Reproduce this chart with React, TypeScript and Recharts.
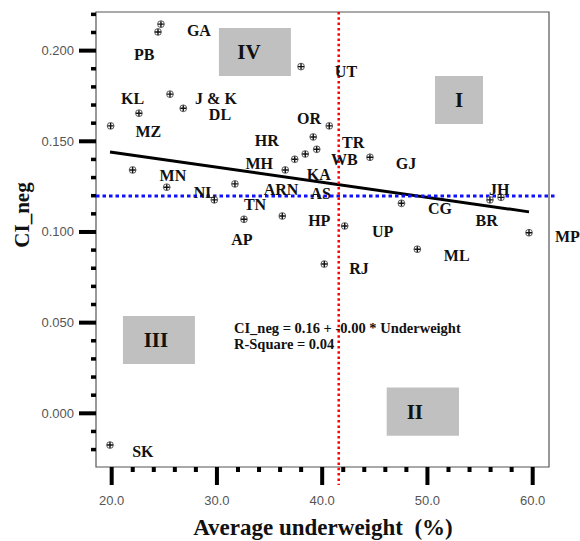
import React from 'react';
import {
  ScatterChart,
  Scatter,
  XAxis,
  YAxis,
  ReferenceLine,
  ReferenceArea,
  ReferenceDot,
} from 'recharts';

// State points: average underweight (%) vs CI_neg
const underweight = [
  24.68, 24.4, 37.99, 25.54, 22.59, 26.8, 19.9, 40.67, 39.15, 39.48, 38.39, 37.39, 36.49, 44.54,
  31.71, 29.75, 32.57, 36.21, 42.14, 47.53, 49.04, 55.94, 56.99, 59.65, 25.23, 21.99, 40.2, 19.84,
];
const ciNeg = [
  0.2146, 0.2103, 0.1912, 0.176, 0.1655, 0.1682, 0.1585, 0.1585, 0.1524, 0.1456, 0.143, 0.1401,
  0.1342, 0.1412, 0.1265, 0.1177, 0.107, 0.1088, 0.1033, 0.1158, 0.0905, 0.1177, 0.1191, 0.0996,
  0.1247, 0.1342, 0.0823, -0.0175,
];

// State codes and where their text sits (data units, text centre)
const stateCodes = [
  'GA', 'PB', 'UT', 'KL', 'J & K', 'DL', 'MZ', 'OR', 'HR', 'TR', 'WB', 'GJ', 'MH', 'KA', 'MN',
  'NL', 'ARN', 'AS', 'JH', 'CG', 'TN', 'HP', 'BR', 'AP', 'UP', 'RJ', 'ML', 'MP', 'SK',
];
const labelX = [
  28.29, 23.1, 42.26, 21.99, 29.91, 30.29, 23.48, 38.75, 34.73, 42.95, 42.1, 47.96, 34.02, 39.67,
  25.82, 28.86, 36.09, 39.86, 56.83, 51.19, 33.62, 39.72, 55.63, 32.38, 45.75, 43.5, 52.78, 63.3,
  22.96,
];
const labelY = [
  0.2109, 0.1976, 0.1883, 0.1737, 0.1735, 0.1646, 0.1553, 0.1627, 0.1504, 0.1495, 0.1397, 0.1379,
  0.1375, 0.1318, 0.1314, 0.1215, 0.1236, 0.121, 0.1232, 0.1127, 0.1149, 0.1061, 0.1062, 0.096,
  0.1002, 0.0796, 0.0873, 0.0974, -0.0209,
];

// axis ticks
const xMajor = [20, 30, 40, 50, 60];
const xTicks = [20, 22, 24, 26, 28, 30, 32, 34, 36, 38, 40, 42, 44, 46, 48, 50, 52, 54, 56, 58, 60];
const yMajor = [0, 0.05, 0.1, 0.15, 0.2];
const yTicks = [
  -0.02, -0.01, 0, 0.01, 0.02, 0.03, 0.04, 0.05, 0.06, 0.07, 0.08, 0.09, 0.1, 0.11, 0.12, 0.13,
  0.14, 0.15, 0.16, 0.17, 0.18, 0.19, 0.2, 0.21, 0.22,
];

// means and linear fit as printed on the chart
const meanUnderweight = 41.57;
const meanCiNeg = 0.1199;
const fitIntercept = 0.1606;
const fitSlope = -0.00083;
const rSquare = 0.04;

// grey quadrant tags
const quadrants = [
  { name: 'I', x1: 50.72, x2: 55.28, y1: 0.1596, y2: 0.186, dx: 0 },
  { name: 'II', x1: 46.13, x2: 53.0, y1: -0.0124, y2: 0.0143, dx: -8 },
  { name: 'III', x1: 21.07, x2: 27.91, y1: 0.0272, y2: 0.0537, dx: -3 },
  { name: 'IV', x1: 30.19, x2: 37.03, y1: 0.186, y2: 0.2125, dx: -6 },
];

const X_DOMAIN: [number, number] = [18.51, 61.55];
const Y_DOMAIN: [number, number] = [-0.0296, 0.2213];
const PLOT_LEFT = 96;
const PLOT_BOTTOM = 467;

const serif = '"Liberation Serif", "Times New Roman", serif';
const sans = '"Liberation Sans", Arial, sans-serif';

const points = underweight.map((x, i) => ({ x, y: ciNeg[i] }));
const xMin = Math.min(...underweight);
const xMax = Math.max(...underweight);

const isMajor = (list: number[], v: number) => list.some((m) => Math.abs(m - v) < 1e-6);

const XTick = (props: any) => {
  const { x, payload } = props;
  const v = payload.value;
  if (isMajor(xMajor, v)) {
    return (
      <g>
        <rect x={x - 2} y={PLOT_BOTTOM} width={4} height={18} fill="#000" />
        <text x={x} y={PLOT_BOTTOM + 33} textAnchor="middle" dominantBaseline="central" fontSize={13} fill="#555" fontFamily={sans}>
          {v.toFixed(1)}
        </text>
      </g>
    );
  }
  return <rect x={x - 2} y={PLOT_BOTTOM} width={4} height={5} fill="#000" />;
};

const YTick = (props: any) => {
  const { y, payload } = props;
  const v = payload.value;
  if (isMajor(yMajor, v)) {
    return (
      <g>
        <rect x={PLOT_LEFT - 17} y={y - 2} width={17} height={4} fill="#000" />
        <text x={PLOT_LEFT - 22} y={y} textAnchor="end" dominantBaseline="central" fontSize={13} fill="#555" fontFamily={sans}>
          {v.toFixed(3)}
        </text>
      </g>
    );
  }
  return <rect x={PLOT_LEFT - 5} y={y - 1.75} width={5} height={3.5} fill="#000" />;
};

const Marker = (props: any) => {
  const { cx, cy } = props;
  return (
    <g>
      <circle cx={cx} cy={cy} r={3.4} fill="#fff" stroke="#333" strokeWidth={0.8} />
      <path d={`M${cx - 3},${cy}H${cx + 3}M${cx},${cy - 3}V${cy + 3}`} stroke="#111" strokeWidth={1.4} />
    </g>
  );
};

const textAt = (txt: string, size: number, anchor: string) => (p: any) => (
  <text
    x={p.cx}
    y={p.cy}
    textAnchor={anchor}
    dominantBaseline="central"
    fontSize={size}
    fontWeight="bold"
    fontFamily={serif}
    fill="#111"
  >
    {txt}
  </text>
);

const YTitle = () => (
  <text x={22} y={215} transform="rotate(-90 22 215)" textAnchor="middle" dominantBaseline="central" fontSize={21} fontWeight="bold" fontFamily={serif} fill="#111">
    CI_neg
  </text>
);

const XTitle = () => (
  <text x={323} y={527} textAnchor="middle" dominantBaseline="central" fontSize={23} fontWeight="bold" fontFamily={serif} fill="#111">
    {'Average underweight \u00a0(%)'}
  </text>
);

export default function App() {
  return (
    <div style={{ position: 'absolute', left: 0, top: 0, width: 580, height: 541 }}>
      <ScatterChart width={580} height={541} margin={{ top: 12, right: 31, bottom: 0, left: 0 }}>
        <XAxis
          type="number"
          dataKey="x"
          domain={X_DOMAIN}
          allowDataOverflow
          ticks={xTicks}
          interval={0}
          tick={<XTick />}
          tickLine={false}
          axisLine={false}
          height={74}
          label={<XTitle />}
        />
        <YAxis
          type="number"
          dataKey="y"
          domain={Y_DOMAIN}
          allowDataOverflow
          ticks={yTicks}
          interval={0}
          tick={<YTick />}
          tickLine={false}
          axisLine={false}
          width={96}
          label={<YTitle />}
        />
        {/* plot frame */}
        <ReferenceArea x1={X_DOMAIN[0]} x2={X_DOMAIN[1]} y1={Y_DOMAIN[0]} y2={Y_DOMAIN[1]} fill="none" stroke="#555" strokeWidth={1.2} ifOverflow="visible" />
        {quadrants.map((q) => (
          <ReferenceArea
            key={q.name}
            x1={q.x1}
            x2={q.x2}
            y1={q.y1}
            y2={q.y2}
            fill="#c0c0c0"
            fillOpacity={1}
            stroke="none"
            ifOverflow="visible"
            label={{ value: q.name, position: 'center', dx: q.dx, fontSize: 21, fontWeight: 'bold', fontFamily: serif, fill: '#111' }}
          />
        ))}
        <ReferenceDot x={31.62} y={0.047} ifOverflow="visible" shape={textAt(`CI_neg = ${fitIntercept.toFixed(2)} + ${fitSlope.toFixed(2)} * Underweight`, 14.5, 'start')} />
        <ReferenceDot x={31.62} y={0.0382} ifOverflow="visible" shape={textAt(`R-Square = ${rSquare.toFixed(2)}`, 14.5, 'start')} />
        <ReferenceLine
          segment={[
            { x: xMin, y: fitIntercept + fitSlope * xMin },
            { x: xMax, y: fitIntercept + fitSlope * xMax },
          ]}
          stroke="#000"
          strokeWidth={3}
          ifOverflow="visible"
        />
        <ReferenceLine
          segment={[
            { x: X_DOMAIN[0], y: meanCiNeg },
            { x: 62.12, y: meanCiNeg },
          ]}
          stroke="#1010ff"
          strokeWidth={3}
          strokeDasharray="3.5 3"
          ifOverflow="visible"
        />
        <ReferenceLine
          segment={[
            { x: meanUnderweight, y: Y_DOMAIN[1] },
            { x: meanUnderweight, y: -0.0395 },
          ]}
          stroke="#ff0000"
          strokeWidth={2.5}
          strokeDasharray="2.5 2.8"
          ifOverflow="visible"
        />
        <Scatter data={points} shape={<Marker />} isAnimationActive={false} />
        {stateCodes.map((s, i) => (
          <ReferenceDot key={s} x={labelX[i]} y={labelY[i]} ifOverflow="visible" shape={textAt(s, 16, 'middle')} />
        ))}
      </ScatterChart>
    </div>
  );
}
